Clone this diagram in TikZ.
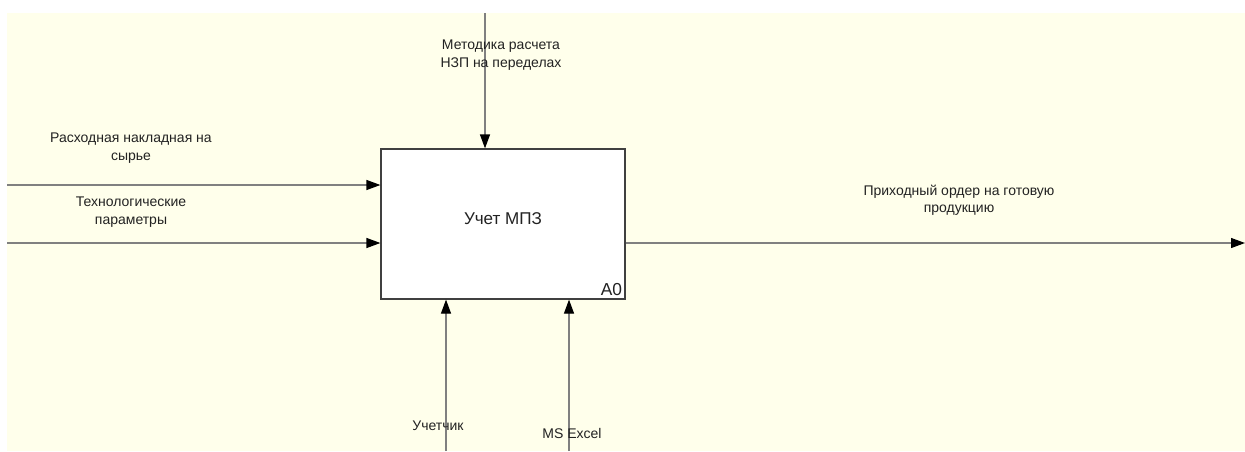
\documentclass[tikz,border=0pt]{standalone}
\usepackage{fontspec}
\setmainfont{Liberation Sans}
\usetikzlibrary{arrows.meta,positioning}
\definecolor{idefbg}{RGB}{255,255,235}
\definecolor{idefline}{RGB}{128,128,128}
\definecolor{idefedge}{RGB}{64,64,64}
\definecolor{ideftext}{RGB}{34,34,34}

\begin{document}
\begin{tikzpicture}[
  x=0.75pt, y=-0.75pt,
  every node/.style={font=\fontsize{10.5}{13}\selectfont,text=ideftext},
  actbox/.style={draw=idefedge,fill=white,line width=0.9pt,minimum width=183pt,
                 minimum height=112.5pt,inner sep=0pt},
  lbl/.style={align=center,inner sep=0pt},
  arr/.style={-{Triangle[length=10.5pt,width=7.5pt,color=black]},line width=0.9pt,idefline},
]
  % Canvas
  \fill[white] (0,0) rectangle (1245,451);
  \fill[idefbg] (7,13) rectangle (1245,451);
  \useasboundingbox (0,0) rectangle (1245,451);

  % Activity A0
  \node[actbox] (a0) at (503,224) {};
  \node[font=\fontsize{12.8}{15}\selectfont] (a0name) at (503,219) {Учет МПЗ};
  \node[font=\fontsize{13}{15}\selectfont,anchor=south east,inner sep=2.5pt] (a0num)
    at (a0.south east) {A0};

  % Free ends of the arrows
  \coordinate (ctl) at (485,13);
  \coordinate (in1) at (7,185);
  \coordinate (in2) at (7,243);
  \coordinate (out1) at (1245,243);
  \coordinate (mech1) at (446,451);
  \coordinate (mech2) at (569,451);

  % Control
  \draw[arr] (ctl) -- (ctl |- a0.north);
  \node[lbl] (ctllbl) at (501,55) {Методика расчета\\НЗП на переделах};

  % Inputs
  \draw[arr] (in1) -- (in1 -| a0.west);
  \node[lbl] (in1lbl) at (131,148) {Расходная накладная на\\сырье};
  \draw[arr] (in2) -- (in2 -| a0.west);
  \node[lbl] (in2lbl) at (131,212) {Технологические\\параметры};

  % Output
  \draw[arr] (out1 -| a0.east) -- (out1);
  \node[lbl] (out1lbl) at (959,200) {Приходный ордер на готовую\\продукцию};

  % Mechanisms
  \draw[arr] (mech1) -- (mech1 |- a0.south);
  \node[lbl] (mech1lbl) at (438,426) {Учетчик};
  \draw[arr] (mech2) -- (mech2 |- a0.south);
  \node[lbl] (mech2lbl) at (572,433) {MS Excel};
\end{tikzpicture}
\end{document}
